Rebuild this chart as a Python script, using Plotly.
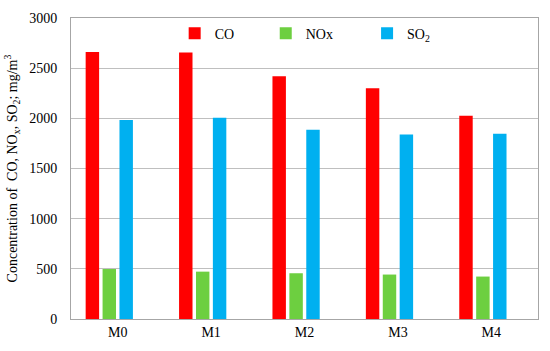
import plotly.graph_objects as go

categories = ["M0", "M1", "M2", "M3", "M4"]
co = [2660, 2655, 2420, 2300, 2025]
nox = [498, 472, 456, 443, 423]
so2 = [1984, 2005, 1886, 1840, 1846]
series_names = ["CO", "NOx", "SO<sub>2</sub>"]
colors = ["#FF0000", "#6DCF40", "#00B0F0"]
y_ticks = [0, 500, 1000, 1500, 2000, 2500, 3000]

FONT = "Liberation Serif"
w = 0.144
step = 0.181
start = -0.343

legend_ids = ["legend", "legend2", "legend3"]
legend_x = [0.222, 0.417, 0.634]

fig = go.Figure()
for i, (name, vals, c) in enumerate(zip(series_names, [co, nox, so2], colors)):
    fig.add_trace(go.Bar(
        x=categories, y=vals, name=name,
        marker=dict(color=c, line=dict(width=0)),
        width=w, offset=start + i * step,
        legend=legend_ids[i],
    ))

leg_common = dict(y=0.948, yanchor="middle", xanchor="left",
                  bgcolor="rgba(0,0,0,0)", font=dict(family=FONT, size=14),
                  itemwidth=30)

fig.update_layout(
    width=550, height=351,
    margin=dict(l=68.5, r=11, t=13, b=31),
    paper_bgcolor="white", plot_bgcolor="white",
    barmode="group",
    font=dict(family=FONT, size=14, color="black"),
    showlegend=True,
    legend=dict(x=legend_x[0], **leg_common),
    legend2=dict(x=legend_x[1], **leg_common),
    legend3=dict(x=legend_x[2], **leg_common),
    xaxis=dict(
        showline=True, linecolor="#A6A6A6", linewidth=1, mirror=True,
        showgrid=False, ticks="", tickfont=dict(family=FONT, size=14),
    ),
    yaxis=dict(
        range=[0, 3000], tickvals=y_ticks,
        showline=True, linecolor="#A6A6A6", linewidth=1, mirror=True,
        showgrid=True, gridcolor="#BFBFBF", gridwidth=1,
        ticks="", ticklabelstandoff=10,
        tickfont=dict(family=FONT, size=14),
        title=dict(text="Concentration of  CO, NO<sub>x</sub>, SO<sub>2</sub>; mg/m<sup>3</sup>",
                   font=dict(family=FONT, size=14), standoff=8),
        zeroline=False,
    ),
)

fig.write_html("out.html", config={"displayModeBar": False},
               post_script="document.body.style.margin='0';")
